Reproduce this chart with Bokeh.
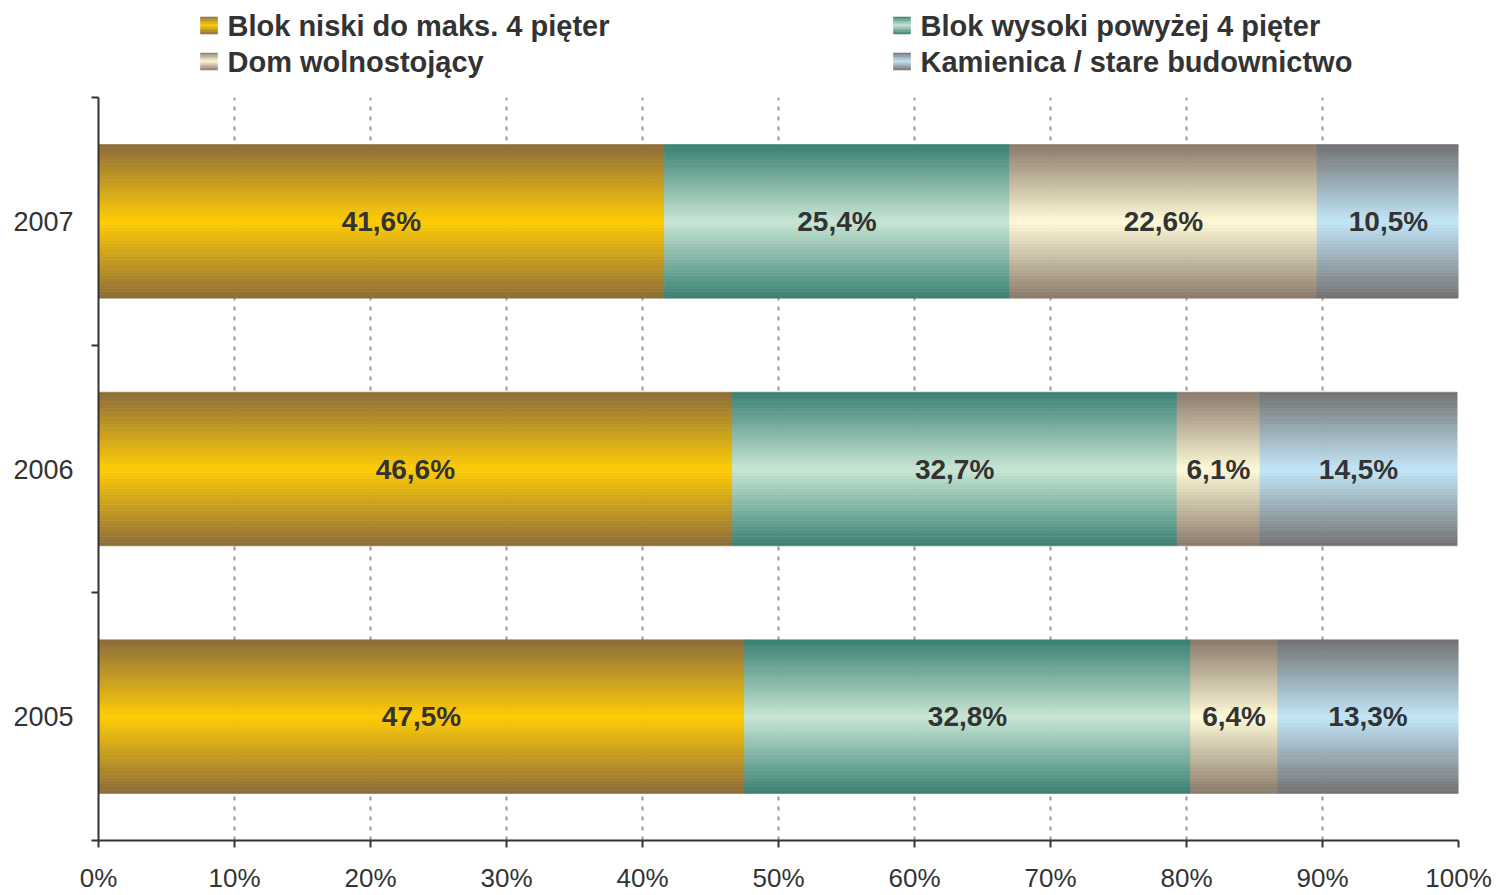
from bokeh.plotting import figure
from bokeh.models import ColumnDataSource, FixedTicker, Range1d
from bokeh.layouts import column
from bokeh.core.properties import value
from bokeh.embed import file_html
from bokeh.resources import INLINE

# ---- data ----
years = ["2005", "2006", "2007"]
series = ["Blok niski do maks. 4 pięter", "Blok wysoki powyżej 4 pięter",
          "Dom wolnostojący", "Kamienica / stare budownictwo"]
blok_niski = [47.5, 46.6, 41.6]
blok_wysoki = [32.8, 32.7, 25.4]
dom = [6.4, 6.1, 22.6]
kamienica = [13.3, 14.5, 10.5]
x_ticks = [0, 10, 20, 30, 40, 50, 60, 70, 80, 90, 100]
x_tick_labels = ["0%", "10%", "20%", "30%", "40%", "50%", "60%", "70%", "80%", "90%", "100%"]

# ---- style ----
edge_cols = [(140, 108, 58), (58, 128, 115), (138, 122, 108), (114, 114, 114)]
center_cols = [(255, 204, 5), (200, 230, 212), (255, 250, 215), (194, 230, 248)]
FONT = "Liberation Sans"
TXT = "#333333"
N = 48
BAR_H = 0.62


def grad(ci, t):
    e, c = edge_cols[ci], center_cols[ci]
    r = [round(c[k] * (1 - t) + e[k] * t) for k in range(3)]
    return "#%02x%02x%02x" % tuple(r)


values = [blok_niski, blok_wysoki, dom, kamienica]

strips = dict(y=[], left=[], right=[], color=[])
labels = dict(x=[], y=[], text=[])
for yi, yr in enumerate(years):
    yc = yi + 0.5
    left = 0.0
    for si in range(len(series)):
        v = values[si][yi]
        right = left + v
        for k in range(N):
            f = (k + 0.5) / N
            t = abs(f - 0.5) * 2
            strips["y"].append(yc - BAR_H / 2 + f * BAR_H)
            strips["left"].append(left)
            strips["right"].append(right)
            strips["color"].append(grad(si, t))
        labels["x"].append((left + right) / 2)
        labels["y"].append(yc)
        labels["text"].append(("%.1f%%" % v).replace(".", ","))
        left = right

p = figure(width=1501, height=810, x_range=Range1d(0, 100), y_range=Range1d(0, 3),
           output_backend="svg", toolbar_location=None,
           min_border_left=98, min_border_right=43, min_border_top=12, min_border_bottom=55)
p.outline_line_color = None
p.background_fill_color = "white"

p.hbar(y="y", left="left", right="right", height=BAR_H / N * 1.02, fill_color="color",
       line_color="color", line_width=0.6, source=ColumnDataSource(strips))
p.text(x="x", y="y", text="text", source=ColumnDataSource(labels),
       text_font=value(FONT), text_font_style="bold", text_font_size="28px",
       text_color=TXT, text_align="center", text_baseline="middle")

p.xgrid.ticker = FixedTicker(ticks=x_ticks)
p.xgrid.grid_line_color = "#a39494"
p.xgrid.grid_line_width = 2
p.xgrid.grid_line_dash = "4 6"
p.ygrid.grid_line_color = None

xa = p.xaxis[0]
xa.ticker = FixedTicker(ticks=x_ticks)
xa.major_label_overrides = {t: l for t, l in zip(x_ticks, x_tick_labels)}
xa.axis_line_color = TXT
xa.axis_line_width = 2
xa.major_tick_line_color = TXT
xa.major_tick_line_width = 2
xa.major_tick_out = 7
xa.major_tick_in = 0
xa.minor_tick_line_color = None
xa.major_label_text_font = FONT
xa.major_label_text_font_size = "26px"
xa.major_label_text_color = TXT
xa.major_label_standoff = 15

ya = p.yaxis[0]
ya.ticker = FixedTicker(ticks=[0.5, 1.5, 2.5], minor_ticks=[0, 1, 2, 3])
ya.major_label_overrides = {i + 0.5: y for i, y in enumerate(years)}
ya.axis_line_color = TXT
ya.axis_line_width = 2
ya.major_tick_line_color = None
ya.major_tick_out = 0
ya.major_tick_in = 0
ya.minor_tick_line_color = TXT
ya.minor_tick_line_width = 2
ya.minor_tick_out = 7
ya.minor_tick_in = 0
ya.major_label_text_font = FONT
ya.major_label_text_font_size = "27px"
ya.major_label_text_color = TXT
ya.major_label_standoff = 18

# ---- legend figure (frame aligns with the main plot frame: 98..1458 px) ----
lg = figure(width=1501, height=85, x_range=Range1d(98, 1458), y_range=Range1d(85, 0),
            output_backend="svg", toolbar_location=None,
            min_border=0, min_border_left=98, min_border_right=43, min_border_top=0, min_border_bottom=0)
lg.axis.visible = False
lg.grid.visible = False
lg.outline_line_color = None

sw_x = [200, 893, 200, 893]
sw_y = [25, 25, 61, 61]
SW = 17
M = 12
sw = dict(x=[], y=[], color=[])
for si in range(len(series)):
    for k in range(M):
        f = (k + 0.5) / M
        t = abs(f - 0.5) * 2
        sw["x"].append(sw_x[si] + SW / 2)
        sw["y"].append(sw_y[si] - SW / 2 + f * SW)
        sw["color"].append(grad(si, t))
lg.rect(x="x", y="y", width=SW, height=SW / M * 1.05, fill_color="color", line_color="color",
        line_width=0.5, source=ColumnDataSource(sw))
lg.text(x=[x + 27 for x in sw_x], y=sw_y, text=series, text_font=value(FONT),
        text_font_style="bold", text_font_size="29px", text_color=TXT,
        text_align="left", text_baseline="middle")

layout = column(lg, p, spacing=0)
open("out.html", "w").write(file_html(layout, INLINE))
